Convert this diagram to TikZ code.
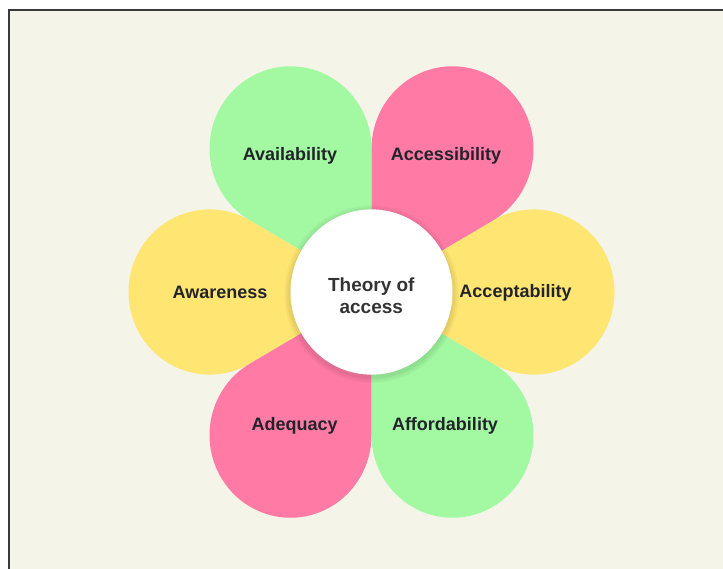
\documentclass[tikz,border=0pt]{standalone}
\usepackage{fontspec}
\setmainfont{Liberation Sans}
\usetikzlibrary{calc}

\definecolor{cream}{HTML}{F4F4E9}
\definecolor{framegray}{HTML}{3A3A3A}
\definecolor{leafgreen}{HTML}{A2F9A2}
\definecolor{leafpink}{HTML}{FF7BA6}
\definecolor{leafyellow}{HTML}{FFE672}
\definecolor{inkdark}{HTML}{23232B}
\definecolor{inkgray}{HTML}{333333}

\begin{document}
\begin{tikzpicture}[x=0.025cm,y=0.025cm,
  leaf/.style={font=\fontsize{12.8}{15}\selectfont\bfseries,text=inkdark,anchor=base,inner sep=0pt},
  halo/.style={fill=black,opacity=0.035}]
\useasboundingbox (0,0) rectangle (723,568);
\fill [white] (0,0) rectangle (723,568);
\filldraw [draw=framegray,fill=cream,line width=0.064cm] (8.8,-10) rectangle (740,557.8);
\coordinate (C) at (371.5,276);

\begin{scope}[shift={(C)},yscale=1.02]
\fill [leafgreen]  (0,0) -- ([shift={(120:162)}]0:81) arc [start angle=0,delta angle=240,radius=81] -- cycle;
\fill [leafyellow] (0,0) -- ([shift={(180:162)}]60:81) arc [start angle=60,delta angle=240,radius=81] -- cycle;
\fill [leafpink]   (0,0) -- ([shift={(240:162)}]120:81) arc [start angle=120,delta angle=240,radius=81] -- cycle;
\fill [leafgreen]  (0,0) -- ([shift={(300:162)}]180:81) arc [start angle=180,delta angle=240,radius=81] -- cycle;
\fill [leafyellow] (0,0) -- ([shift={(0:162)}]-120:81) arc [start angle=-120,delta angle=240,radius=81] -- cycle;
\fill [leafpink]   (0,0) -- ([shift={(60:162)}]-60:81) arc [start angle=-60,delta angle=240,radius=81] -- cycle;

\fill [halo] (0,-2) circle (87);
\fill [halo] (0,-2) circle (85);
\fill [halo] (0,-2) circle (83);
\fill [white] (0,0) circle (81);
\end{scope}
% srodek, platki i ich podpisy

\node (theory) [font=\fontsize{13.5}{15.4}\selectfont\bfseries,text=inkgray,align=center,inner sep=0pt] at (371.3,272) {Theory of\\access};
\node (availability)  [leaf] at (290,407.3)   {Availability};
\node (accessibility) [leaf] at (446,407.3)   {Accessibility};
\node (awareness)     [leaf] at (220,269.3)   {Awareness};
\node (acceptability) [leaf] at (515.5,270.7) {Acceptability};
\node (adequacy)      [leaf] at (294.7,137.3) {Adequacy};
\node (affordability) [leaf] at (445,137.3)   {Affordability};
\end{tikzpicture}
\end{document}
